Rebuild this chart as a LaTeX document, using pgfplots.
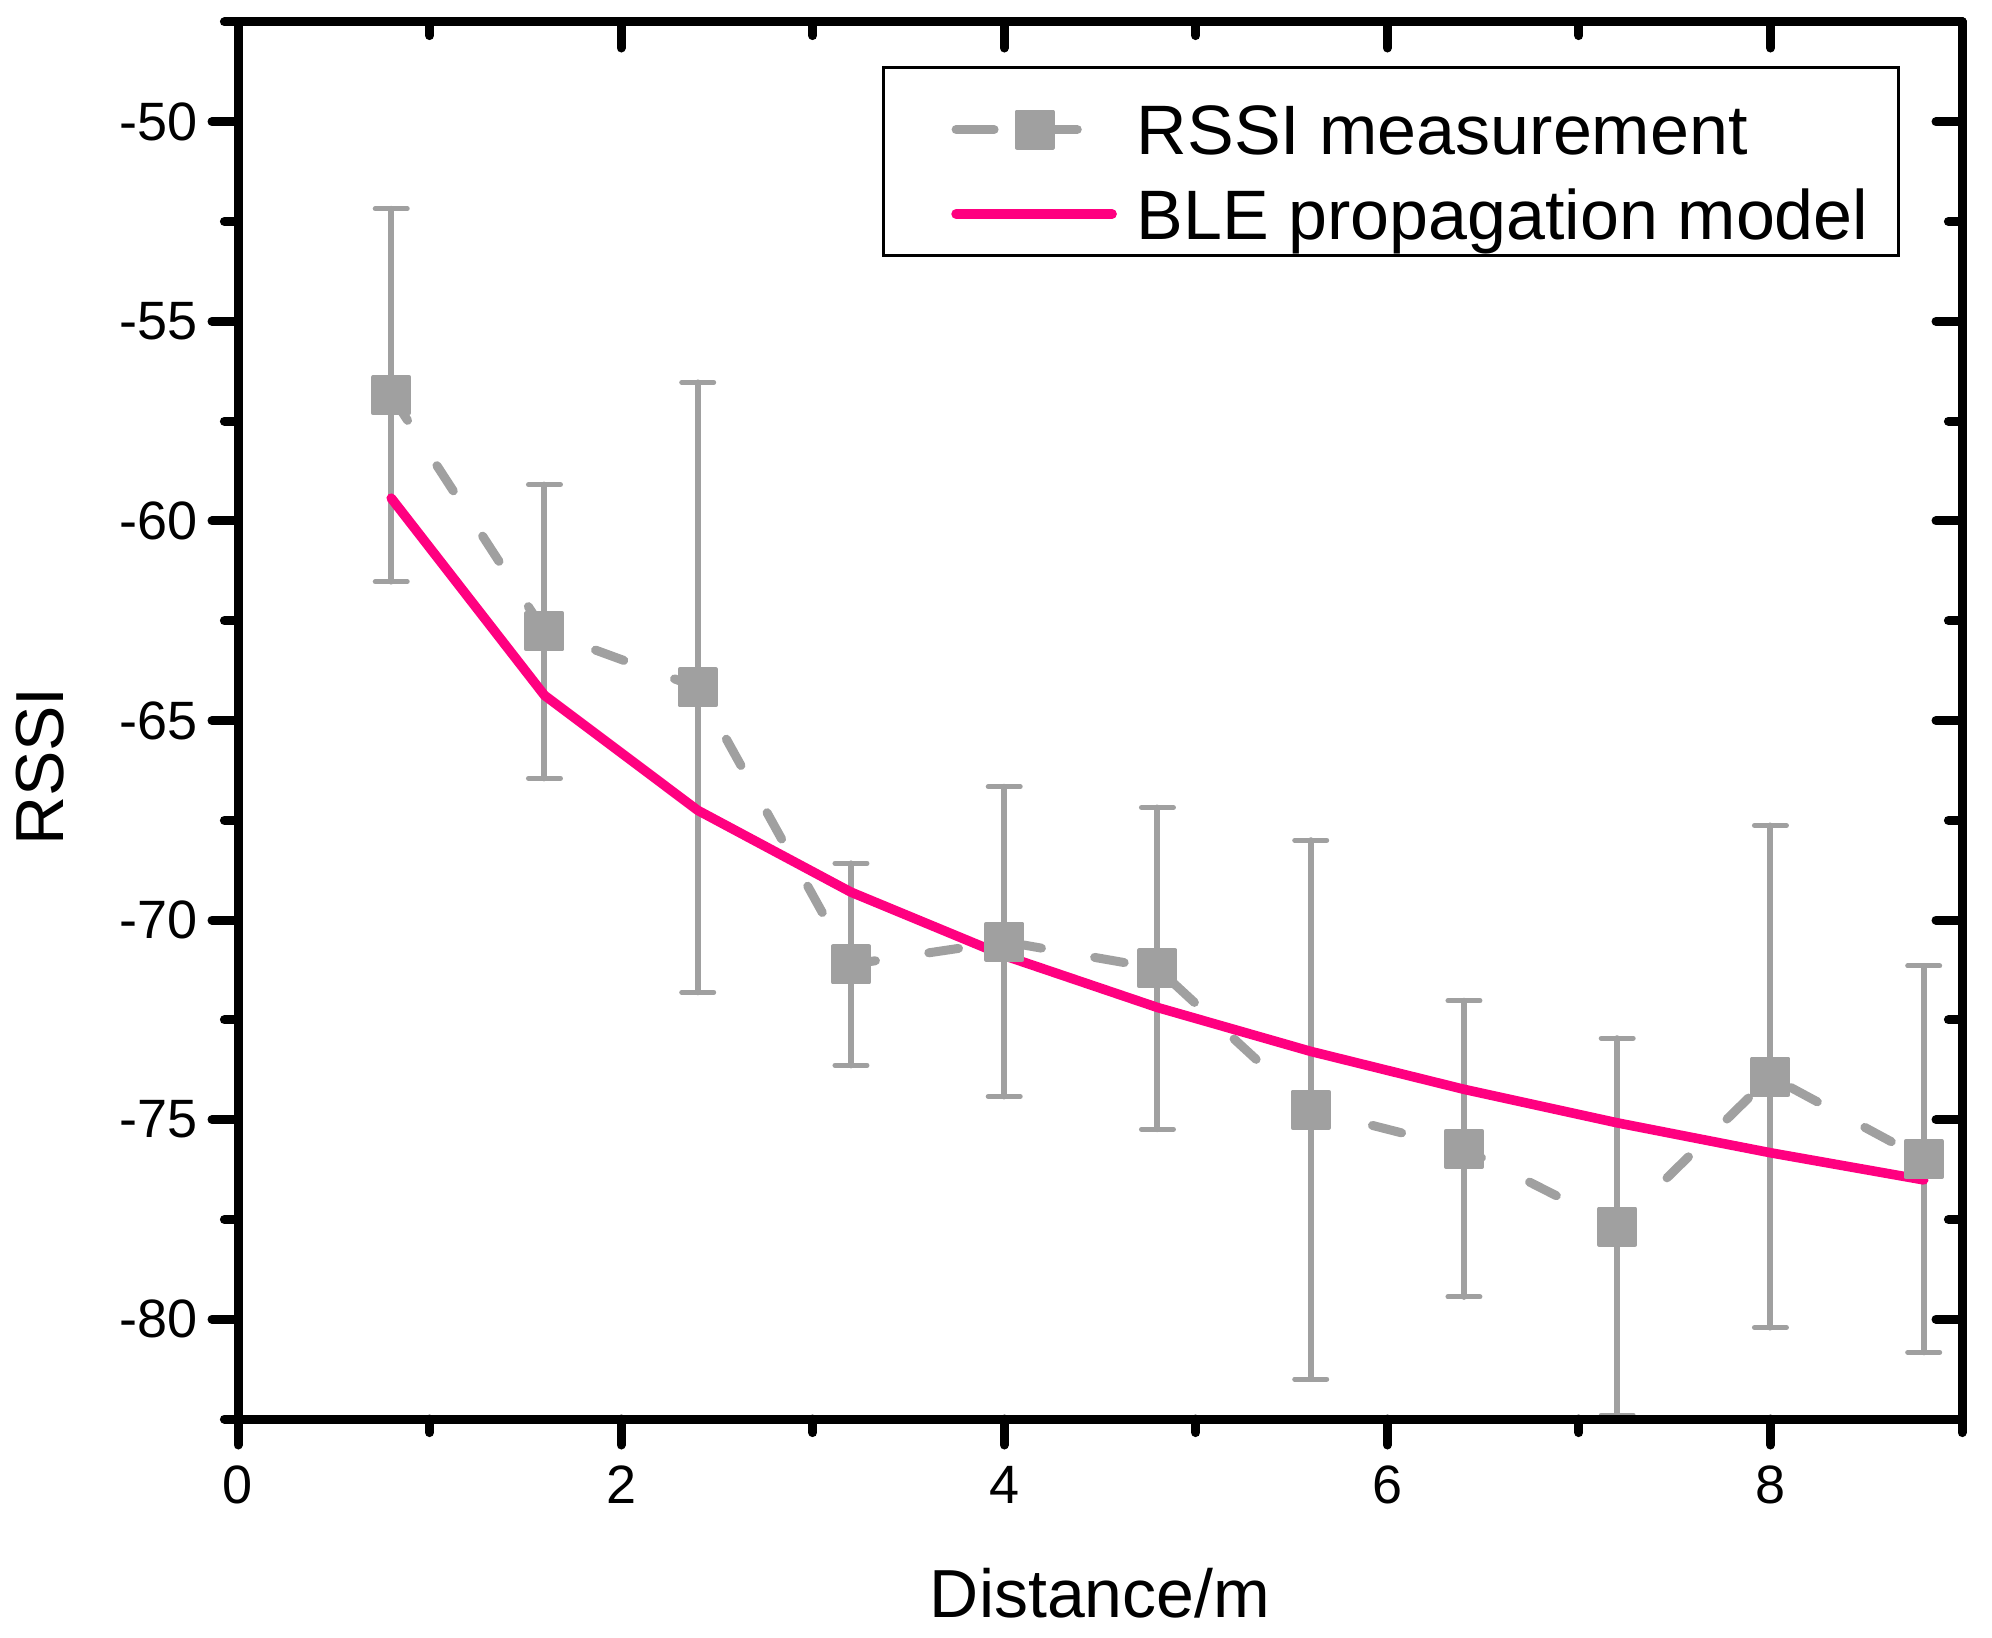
\documentclass[border=0pt]{standalone}
\usepackage{fontspec}
\setmainfont{Liberation Sans}
\usepackage{pgfplots}
\usepackage{pgfplotstable}
\pgfplotsset{compat=1.18}
\definecolor{mgray}{RGB}{160,160,160}
\definecolor{mpink}{RGB}{255,0,128}

\pgfplotstableread{
x    y       e
0.8  -56.85  4.67
1.6  -62.77  3.68
2.4  -64.17  7.64
3.2  -71.11  2.53
4.0  -70.54  3.88
4.8  -71.21  4.03
5.6  -74.75  6.75
6.4  -75.73  3.71
7.2  -77.68  4.72
8.0  -73.92  6.29
8.8  -75.99  4.84
}\meas

\pgfplotstableread{
x    y
0.8  -59.43
1.6  -64.37
2.4  -67.25
3.2  -69.30
4.0  -70.89
4.8  -72.19
5.6  -73.29
6.4  -74.24
7.2  -75.08
8.0  -75.83
8.8  -76.51
}\model

\pgfplotsset{
  common/.style={
    scale only axis, width=431bp, height=349.25bp,
    xmin=0, xmax=9, ymin=-82.5, ymax=-47.5,
    xtick={0,2,4,6,8}, minor xtick={1,3,5,7,9},
    ytick={-80,-75,-70,-65,-60,-55,-50},
    minor ytick={-82.5,-77.5,-72.5,-67.5,-62.5,-57.5,-52.5,-47.5},
    major tick length=6.5bp, minor tick length=3.4bp,
    tick style={line width=2.25bp, line cap=round, black},
    axis line style={line width=2.25bp, line join=round},
  },
  measimg/.style={legend image code/.code={
    \path[draw=none, fill=none] (-9.5bp,0bp) -- (41bp,0bp);
    \draw[##1, solid, mark=none] (1.1bp,6.25bp) -- (10.6bp,6.25bp);
    \draw[##1, solid, mark=none] (20.75bp,6.25bp) -- (31.4bp,6.25bp);
    \draw[##1, solid] plot coordinates {(20.75bp,6.25bp)};
  }},
  modelimg/.style={legend image code/.code={
    \path[draw=none, fill=none] (-9.5bp,0bp) -- (41bp,0bp);
    \draw[##1] (1.1bp,6.25bp) -- (40.1bp,6.25bp);
  }},
}

\begin{document}
\begin{tikzpicture}
\begin{axis}[
  common,
  xtick pos=lower, ytick pos=lower, tick align=outside,
  /pgf/number format/assume math mode=true,
  ticklabel style={font=\fontsize{13.5bp}{16bp}\selectfont},
  xticklabel style={yshift=-1.75bp},
  xlabel={Distance/m}, ylabel={RSSI},
  every axis x label/.style={at={(rel axis cs:0.5,0)}, anchor=base, yshift=-49.5bp,
    font=\fontsize{17bp}{20bp}\selectfont},
  every axis y label/.style={at={(rel axis cs:0,0.467)}, xshift=-43.5bp, rotate=90, anchor=base,
    font=\fontsize{17bp}{20bp}\selectfont},
  legend style={at={(rel axis cs:1,1)}, anchor=north east, xshift=-15.5bp, yshift=-11bp,
    draw=black, line width=0.75bp, inner xsep=7.5bp, inner ysep=0pt,
    row sep=4.45bp, column sep=5bp,
    font=\fontsize{17.5bp}{21bp}\selectfont,
    cells={anchor=base west},
    nodes={inner sep=0pt, anchor=base west, text depth=4bp}},
]
\addplot[mgray, line width=2.25bp, dash pattern=on 7.5bp off 13.5bp, line cap=round, line join=round,
  mark=square*, mark size=4.5bp,
  mark options={solid, fill=mgray, draw=mgray, line width=1bp},
  measimg,
  error bars/.cd, y dir=both, y explicit,
  error bar style={solid, line width=1.5bp, mgray},
  error mark options={rotate=90, solid, mgray, line width=1.25bp, mark size=4bp, line cap=round}]
  table[x=x, y=y, y error=e] {\meas};
\addlegendentry{\rule{0pt}{21.75bp}RSSI measurement}
\addplot[mpink, line width=2.4bp, line cap=round, line join=round, mark=none, modelimg]
  table[x=x, y=y] {\model};
\addlegendentry{BLE propagation model}
\end{axis}
\begin{axis}[
  common,
  xtick pos=upper, ytick pos=upper, tick align=inside,
  xticklabels={}, yticklabels={},
]
\end{axis}
\pgfresetboundingbox
\path ([shift={(-59.5bp,-54.75bp)}]current axis.south west) rectangle ([shift={(7.5bp,5.5bp)}]current axis.north east);
\end{tikzpicture}
\end{document}
